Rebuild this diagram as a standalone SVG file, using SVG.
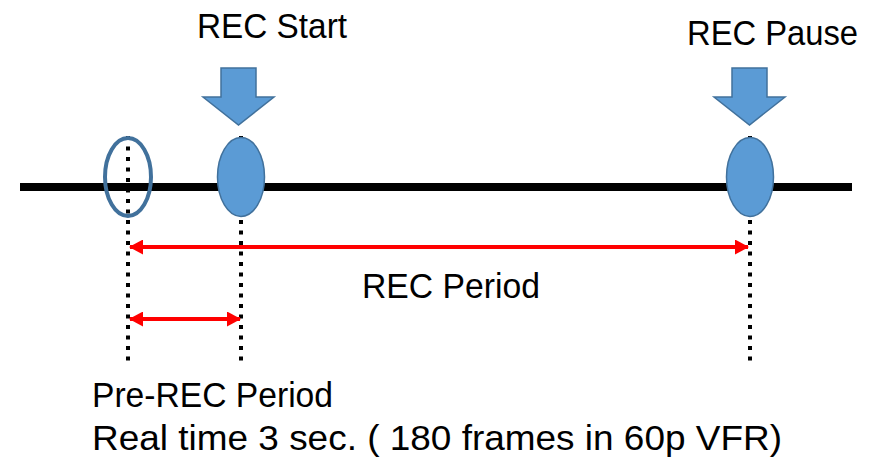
<svg xmlns="http://www.w3.org/2000/svg" width="876" height="465" viewBox="0 0 876 465">
<defs>
<style>
.lbl{font-family:"Liberation Sans",Arial,sans-serif;font-size:35px;fill:#000}
.dot{stroke:#000;stroke-width:4;stroke-dasharray:4 6.5;fill:none}
.red{stroke:#FF0000;stroke-width:4;fill:none;marker-start:url(#ah);marker-end:url(#ah)}
.blue{fill:#5B9BD5;stroke:#41719C;stroke-width:1.5}
</style>
<marker id="ah" viewBox="0 0 14 15" refX="13" refY="7.5" markerWidth="14" markerHeight="15" markerUnits="userSpaceOnUse" orient="auto-start-reverse">
<path d="M0,0 L14,7.5 L0,15 Z" fill="#FF0000"/>
</marker>
</defs>
<g id="timeline">
<line x1="20" y1="187" x2="852" y2="187" stroke="#000" stroke-width="8"/>
</g>
<g id="guides">
<line class="dot" x1="128" y1="136" x2="128" y2="362"/>
<line class="dot" x1="241" y1="136" x2="241" y2="362"/>
<line class="dot" x1="750" y1="136" x2="750" y2="362"/>
</g>
<g id="pre-rec-point">
<ellipse cx="128" cy="177" rx="23" ry="39" fill="none" stroke="#41719C" stroke-width="4"/>
</g>
<g id="rec-start-point">
<ellipse class="blue" cx="241" cy="177" rx="23.5" ry="39.5"/>
</g>
<g id="rec-pause-point">
<ellipse class="blue" cx="750" cy="177" rx="23.5" ry="39.5"/>
</g>
<g id="rec-start">
<polygon class="blue" points="221,68 256,68 256,97 274,97 238.5,125 203,97 221,97"/>
<text class="lbl" x="197" y="38" textLength="150" lengthAdjust="spacingAndGlyphs">REC Start</text>
</g>
<g id="rec-pause">
<polygon class="blue" points="732,68 767,68 767,97 785,97 749.5,125 714,97 732,97"/>
<text class="lbl" x="687" y="45" textLength="171" lengthAdjust="spacingAndGlyphs">REC Pause</text>
</g>
<g id="connectors">
<line class="red" x1="130" y1="247" x2="748" y2="247"/>
<line class="red" x1="130" y1="319" x2="240" y2="319"/>
</g>
<g id="rec-period">
<text class="lbl" x="362" y="298" textLength="178" lengthAdjust="spacingAndGlyphs">REC Period</text>
</g>
<g id="pre-rec-period">
<text class="lbl" x="92" y="407" textLength="241" lengthAdjust="spacingAndGlyphs">Pre-REC Period</text>
<text class="lbl" x="92" y="450" textLength="690" lengthAdjust="spacingAndGlyphs">Real time 3 sec. ( 180 frames in 60p VFR)</text>
</g>
</svg>
